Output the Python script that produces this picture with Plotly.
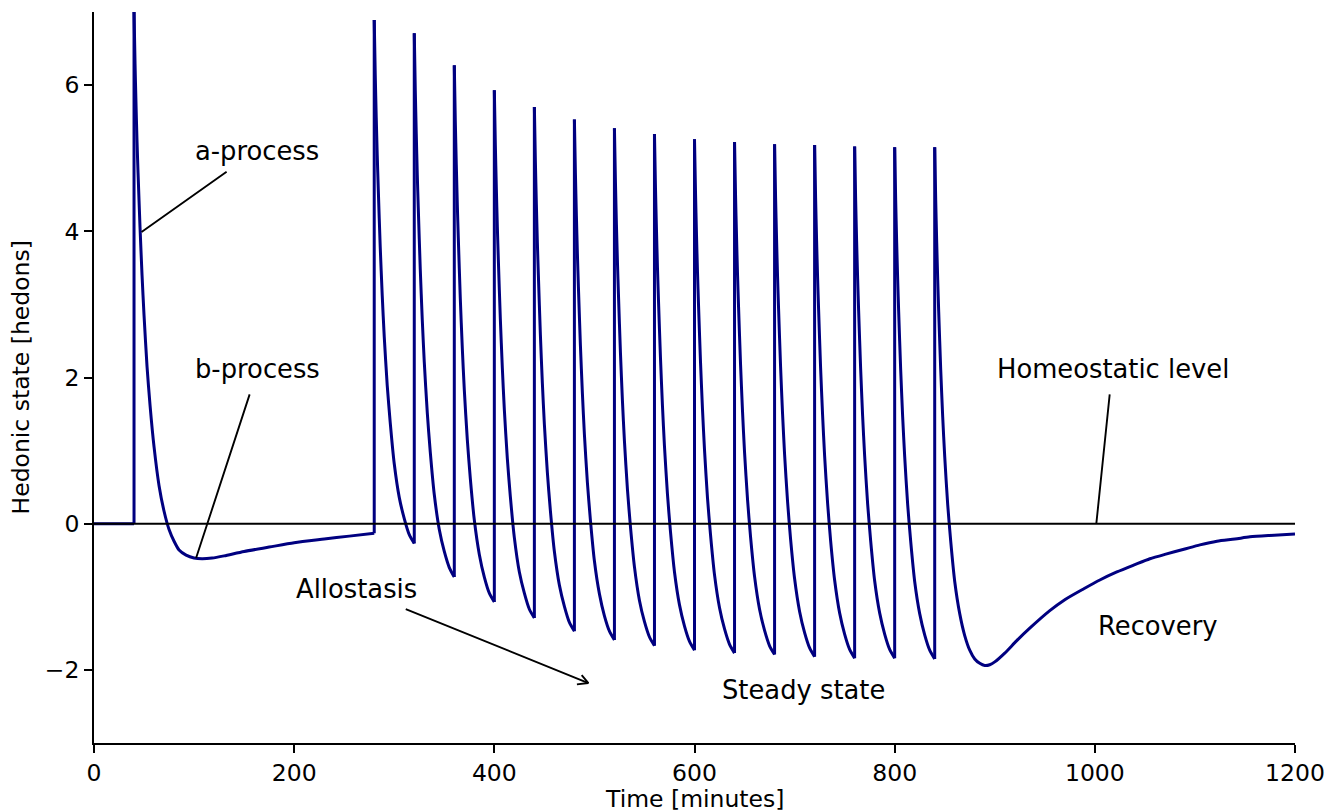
import plotly.graph_objects as go

# ---------------- data ----------------
# baseline before the first dose
baseline_t = [0, 40]
baseline_h = [0, 0]

# first exposure (single dose at t=40) and the slow b-process afterwards
first_t = [40, 41, 42, 43, 44, 46, 48, 50, 53, 56, 60, 65, 70, 75, 80,
           85, 92, 100, 108, 118, 130, 150, 175, 200, 230, 255, 280]
first_h = [7.0, 6.30, 5.72, 5.22, 4.80, 4.05, 3.40, 2.85, 2.15, 1.62, 1.05,
           0.52, 0.17, -0.08, -0.24, -0.36, -0.43, -0.47, -0.48, -0.47, -0.44,
           -0.38, -0.32, -0.26, -0.21, -0.17, -0.13]

# repeated doses every 40 minutes
dose_times = [280, 320, 360, 400, 440, 480, 520, 560, 600, 640, 680, 720, 760, 800]
dose_offsets = [0, 1, 2, 3, 4, 6, 8, 10, 13, 16, 20, 25, 30, 35, 40]
dose_h = [
    [6.89, 6.15, 5.56, 5.04, 4.59, 3.78, 3.12, 2.56, 1.89, 1.38, 0.82, 0.36, 0.07, -0.15, -0.27],
    [6.71, 5.94, 5.33, 4.78, 4.32, 3.48, 2.79, 2.21, 1.52, 0.98, 0.40, -0.08, -0.38, -0.60, -0.73],
    [6.27, 5.51, 4.91, 4.37, 3.91, 3.08, 2.40, 1.83, 1.15, 0.62, 0.05, -0.42, -0.73, -0.95, -1.07],
    [5.93, 5.19, 4.59, 4.06, 3.61, 2.80, 2.13, 1.56, 0.89, 0.37, -0.19, -0.66, -0.95, -1.17, -1.29],
    [5.70, 4.96, 4.37, 3.84, 3.40, 2.59, 1.92, 1.36, 0.70, 0.18, -0.38, -0.84, -1.13, -1.35, -1.47],
    [5.53, 4.80, 4.21, 3.69, 3.24, 2.44, 1.78, 1.22, 0.56, 0.05, -0.51, -0.96, -1.26, -1.47, -1.59],
    [5.41, 4.68, 4.09, 3.58, 3.14, 2.34, 1.68, 1.13, 0.47, -0.04, -0.59, -1.05, -1.34, -1.55, -1.67],
    [5.33, 4.60, 4.02, 3.50, 3.06, 2.27, 1.61, 1.06, 0.40, -0.11, -0.66, -1.11, -1.40, -1.61, -1.73],
    [5.26, 4.54, 3.95, 3.44, 3.00, 2.21, 1.56, 1.01, 0.35, -0.15, -0.70, -1.15, -1.44, -1.65, -1.77],
    [5.22, 4.50, 3.92, 3.40, 2.97, 2.18, 1.53, 0.98, 0.33, -0.18, -0.72, -1.17, -1.46, -1.67, -1.79],
    [5.19, 4.47, 3.89, 3.37, 2.94, 2.15, 1.50, 0.95, 0.30, -0.21, -0.75, -1.20, -1.49, -1.70, -1.82],
    [5.18, 4.46, 3.87, 3.36, 2.93, 2.13, 1.48, 0.93, 0.28, -0.23, -0.77, -1.22, -1.51, -1.72, -1.84],
    [5.16, 4.44, 3.86, 3.35, 2.91, 2.12, 1.47, 0.93, 0.27, -0.23, -0.78, -1.22, -1.51, -1.72, -1.84],
    [5.15, 4.43, 3.85, 3.34, 2.90, 2.11, 1.46, 0.92, 0.26, -0.24, -0.79, -1.23, -1.52, -1.73, -1.85],
]

# last dose at t=840 and the recovery
final_t = [840, 841, 842, 843, 844, 846, 848, 850, 853, 856, 860, 865, 870, 875, 880,
           885, 890, 895, 900, 910, 922, 935, 955, 970, 989, 1005, 1022, 1040, 1055,
           1070, 1089, 1105, 1122, 1140, 1155, 1175, 1200]
final_h = [5.15, 4.43, 3.85, 3.34, 2.90, 2.11, 1.46, 0.92, 0.26, -0.24, -0.79, -1.23,
           -1.53, -1.73, -1.85, -1.91, -1.94, -1.93, -1.89, -1.77, -1.60, -1.43, -1.19,
           -1.04, -0.89, -0.77, -0.66, -0.56, -0.48, -0.42, -0.35, -0.29, -0.24, -0.21,
           -0.18, -0.16, -0.14]

homeostatic_t = [0, 1200]
homeostatic_h = [0, 0]

x_ticks = [0, 200, 400, 600, 800, 1000, 1200]
y_ticks = [-2, 0, 2, 4, 6]
y_tick_text = ["\u22122", "0", "2", "4", "6"]

labels = ["a-process", "b-process", "Homeostatic level", "Allostasis", "Steady state", "Recovery"]
label_x = [99, 99, 900, 200, 625, 1001]
label_y = [5.10, 2.11, 2.11, -0.90, -2.28, -1.40]

# connector lines: (text end x, text end y) -> (curve x, curve y)
conn_from_x = [134, 156, 1015]
conn_from_y = [4.83, 1.79, 1.79]
conn_to_x = [47.5, 102, 1001.5]
conn_to_y = [3.99, -0.47, 0.0]

arrow_from = (310, -1.16)
arrow_to = (494, -2.18)

# ---------------- build ----------------
# smooth decay segments (one per dose), separated by gaps
segments = [(first_t, first_h)]
for start, vals in zip(dose_times, dose_h):
    segments.append(([start + o for o in dose_offsets], vals))
segments.append((final_t, final_h))

dec_t, dec_h = [], []
for st, sh in segments:
    dec_t += list(st) + [None]
    dec_h += list(sh) + [None]

# straight pieces: baseline and the vertical jumps at each dose
jump_t = list(baseline_t) + [None, 40, 40, None]
jump_h = list(baseline_h) + [None, 0, first_h[0], None]
prev_end = first_h[-1]
for st, sh in segments[1:]:
    jump_t += [st[0], st[0], None]
    jump_h += [prev_end, sh[0], None]
    prev_end = sh[-1]

FONT = "DejaVu Sans"
NAVY = "#000080"
fig = go.Figure()
fig.add_trace(go.Scatter(x=dec_t, y=dec_h, mode="lines", connectgaps=False,
                         line=dict(color=NAVY, width=3, shape="spline", smoothing=0.7),
                         hoverinfo="skip"))
fig.add_trace(go.Scatter(x=jump_t, y=jump_h, mode="lines", connectgaps=False,
                         line=dict(color=NAVY, width=3), hoverinfo="skip"))
fig.add_trace(go.Scatter(x=homeostatic_t, y=homeostatic_h, mode="lines",
                         line=dict(color="black", width=2), hoverinfo="skip"))

ann = []
for txt, x, y in zip(labels, label_x, label_y):
    ann.append(dict(x=x, y=y, xref="x", yref="y", text=txt, showarrow=False,
                    xanchor="left", yanchor="middle",
                    font=dict(family=FONT, size=25.8, color="black")))
for fx, fy, tx, ty in zip(conn_from_x, conn_from_y, conn_to_x, conn_to_y):
    ann.append(dict(x=tx, y=ty, ax=fx, ay=fy, xref="x", yref="y", axref="x", ayref="y",
                    text="", showarrow=True, arrowhead=0, arrowwidth=1.9,
                    arrowcolor="black", standoff=0, startstandoff=0))
# main arrow shaft
ann.append(dict(x=arrow_to[0], y=arrow_to[1], ax=arrow_from[0], ay=arrow_from[1],
                xref="x", yref="y", axref="x", ayref="y", text="", showarrow=True,
                arrowhead=0, arrowwidth=1.9, arrowcolor="black", standoff=0))
# open chevron head (pixel offsets from the tip)
for dx, dy in [(-8, -9.5), (-13, 1.5)]:
    ann.append(dict(x=arrow_to[0], y=arrow_to[1], ax=dx, ay=dy, xref="x", yref="y",
                    text="", showarrow=True, arrowhead=0, arrowwidth=1.9,
                    arrowcolor="black", standoff=0))
# axis titles
ann.append(dict(x=0.5, y=0, xref="paper", yref="paper", text="Time [minutes]",
                showarrow=False, xanchor="center", yanchor="middle", yshift=-55.5,
                borderpad=0,
                font=dict(family=FONT, size=23.5, color="black")))
ann.append(dict(x=0, y=0.5, xref="paper", yref="paper", text="Hedonic state [hedons]",
                showarrow=False, xanchor="center", yanchor="middle", xshift=-74,
                textangle=-90, font=dict(family=FONT, size=23.5, color="black")))

# the page adds an 8px body margin, so the figure is 8px smaller on each side
fig.update_layout(
    width=1330, height=804,
    margin=dict(l=86, r=43, t=4, b=69, autoexpand=False),
    paper_bgcolor="white", plot_bgcolor="white",
    showlegend=False,
    font=dict(family=FONT, size=23.5, color="black"),
    annotations=ann,
)
fig.update_xaxes(range=[0, 1200], tickvals=x_ticks, showgrid=False, zeroline=False,
                 showline=True, linecolor="black", linewidth=1.9, mirror=False,
                 ticks="outside", ticklen=8, tickwidth=1.9, tickcolor="black",
                 tickfont=dict(family=FONT, size=23.5, color="black"))
fig.update_yaxes(range=[-3, 7], tickvals=y_ticks, ticktext=y_tick_text, showgrid=False,
                 zeroline=False, showline=True, linecolor="black", linewidth=1.9,
                 mirror=False, ticks="outside", ticklen=8, tickwidth=1.9,
                 tickcolor="black", tickfont=dict(family=FONT, size=23.5, color="black"))

fig.write_html("out.html")
